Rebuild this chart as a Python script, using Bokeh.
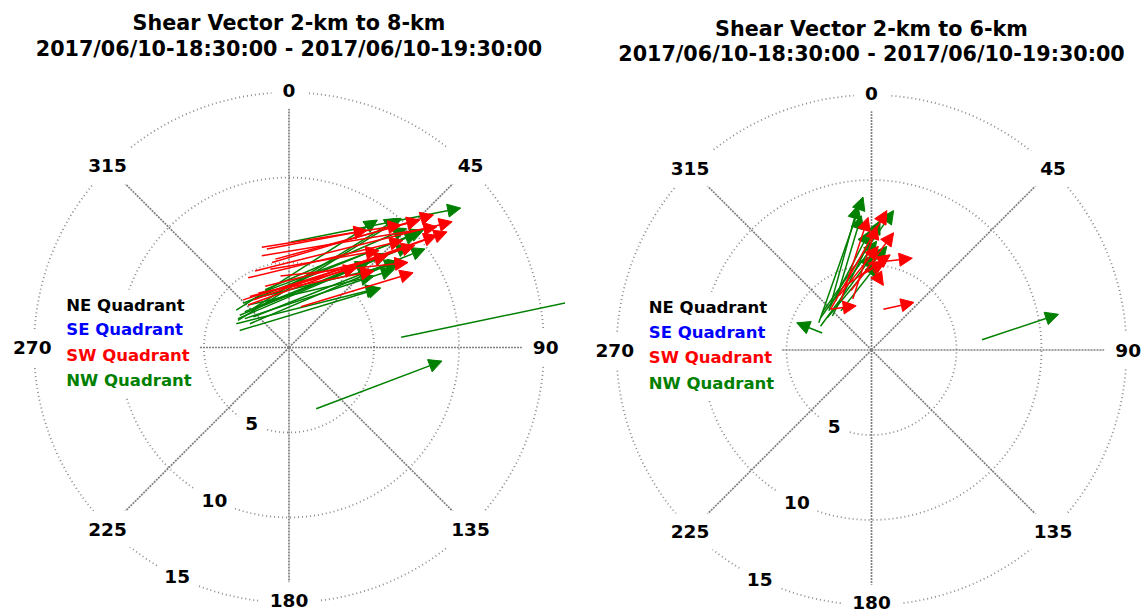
import numpy as np
from bokeh.plotting import figure
from bokeh.layouts import row
from bokeh.models import Arrow, NormalHead, ColumnDataSource
from bokeh.core.properties import value
from bokeh.embed import file_html
from bokeh.resources import INLINE

# ---------------- data ----------------
rings = [5, 10, 15]
ring_labels = ["5", "10", "15"]
spoke_angles = [0, 45, 90, 135, 180, 225, 270, 315]
angle_labels = ["0", "45", "90", "135", "180", "225", "270", "315"]
legend_labels = ["NE Quadrant", "SE Quadrant", "SW Quadrant", "NW Quadrant"]
legend_colors = ["black", "blue", "red", "green"]

title_left = ["Shear Vector 2-km to 8-km", "2017/06/10-18:30:00 - 2017/06/10-19:30:00"]
title_right = ["Shear Vector 2-km to 6-km", "2017/06/10-18:30:00 - 2017/06/10-19:30:00"]

# left panel (2-8 km) arrows: tail (u0, v0) -> head (u1, v1)
l_green_u0 = [0.1, -3.1, -3.0, -2.9, -2.7, -3.0, -2.6, -2.3, -2.4, -2.0, -1.7, -3.1, -2.1, -1.4, 6.6, 1.6, -2.6, -2.9, -2.1]
l_green_v0 = [6.2, 2.2, 1.6, 1.0, 2.6, 1.7, 2.1, 1.4, 2.5, 2.9, 3.2, 1.4, 2.3, 3.4, 0.6, -3.6, 1.7, 1.9, 1.8]
l_green_u1 = [10.1, 5.2, 6.6, 5.4, 7.9, 7.1, 5.8, 6.4, 5.0, 6.6, 7.6, 5.3, 6.4, 6.9, 19.5, 9.0, 6.2, 4.7, 8.0]
l_green_v1 = [8.2, 7.5, 7.6, 3.5, 6.9, 6.0, 5.5, 5.1, 4.2, 5.0, 6.7, 3.5, 7.6, 7.0, 3.3, -0.8, 4.6, 5.0, 5.8]

l_red_u0 = [-1.3, -1.6, -1.0, -2.4, -2.0, -2.4, -2.1, 0.7, -1.4, -1.8, -0.8, -1.1, -2.3, -0.5, -2.7, -1.6]
l_red_v0 = [5.8, 5.4, 5.0, 4.1, 4.5, 2.5, 2.8, 2.4, 3.6, 3.2, 5.2, 4.6, 3.0, 4.2, 2.8, 5.9]
l_red_u1 = [4.6, 8.7, 8.5, 6.7, 9.6, 9.3, 8.7, 7.3, 5.8, 5.0, 7.7, 5.3, 4.0, 7.0, 7.4, 6.6]
l_red_v1 = [6.9, 7.1, 7.8, 6.3, 7.4, 6.8, 6.6, 4.4, 5.4, 4.5, 7.5, 5.7, 4.7, 5.0, 6.0, 7.2]

# right panel (2-6 km) arrows
r_green_u0 = [-3.1, -2.9, -2.6, -2.4, -2.1, -2.9, 6.5, -1.8, -2.5, -3.0, -3.0, -2.3]
r_green_v0 = [1.6, 2.2, 1.9, 2.6, 2.9, 1.0, 0.6, 2.3, 2.3, 1.9, 1.4, 2.0]
r_green_u1 = [-0.5, 1.3, 0.9, -0.1, -0.6, -4.4, 11.0, 0.4, -0.8, 0.3, 0.1, 0.5]
r_green_v1 = [9.0, 8.2, 6.1, 7.0, 7.9, 1.6, 2.1, 5.1, 8.5, 6.4, 5.6, 7.6]

r_red_u0 = [-2.4, -1.8, -1.2, -1.5, -0.2, 0.1, -2.4, 0.7, -1.9, -1.1, -0.6]
r_red_v0 = [2.4, 2.9, 3.5, 3.8, 5.1, 4.7, 2.4, 2.4, 3.2, 3.0, 4.4]
r_red_u1 = [0.9, -0.2, 1.3, 1.1, 2.4, 0.7, -0.9, 2.5, 0.4, 0.3, 0.8]
r_red_v1 = [8.2, 7.8, 6.9, 5.6, 5.4, 3.8, 2.6, 2.8, 6.1, 7.3, 5.2]

# ---------------- drawing ----------------
PX = 17.0            # pixels per speed unit
FONT = value("DejaVu Sans")
RING = "#8a8a8a"
SPOKE = "#808080"


def text_w(s, size):
    return len(s) * 0.696 * size


def make_panel(width, height, cx, cy, titles, title_px, arrows):
    p = figure(width=width, height=height,
               x_range=(-cx / PX, (width - cx) / PX),
               y_range=(-(height - cy) / PX, cy / PX),
               x_axis_type=None, y_axis_type=None,
               toolbar_location=None, output_backend="svg",
               min_border=0, outline_line_color=None)
    p.background_fill_color = "white"
    p.border_fill_color = "white"

    # rings
    t = np.linspace(0, 2 * np.pi, 721)
    for r in rings:
        p.line(r * np.sin(t), r * np.cos(t), line_color=RING,
               line_dash="1 3", line_width=1.8)
    # spokes
    th = np.radians(spoke_angles)
    rmax = rings[-1]
    p.segment(np.zeros(len(th)), np.zeros(len(th)), rmax * np.sin(th), rmax * np.cos(th),
              line_color=SPOKE, line_dash="2 1", line_width=1.7)

    # angle labels with white boxes
    rl = rmax + 0.1
    ax = rl * np.sin(th)
    ay = rl * np.cos(th)
    ay[angle_labels.index("180")] += 4.0 / PX   # keep bottom label inside the page
    p.rect(ax, ay, width=[text_w(s, 18.5) + 22 for s in angle_labels],
           height=[36] * len(angle_labels),
           width_units="screen", height_units="screen",
           fill_color="white", line_color=None)
    p.text(ax, ay, text=angle_labels, text_font=FONT, text_font_style="bold",
           text_font_size="18.5px", text_align="center", text_baseline="middle",
           text_color="black")

    # ring labels
    rb = np.radians(206)
    rx = [r * np.sin(rb) for r in rings]
    ry = [r * np.cos(rb) for r in rings]
    p.rect(rx, ry, width=[text_w(s, 18.5) + 14 for s in ring_labels],
           height=[26] * len(rings), width_units="screen", height_units="screen",
           fill_color="white", line_color=None)
    p.text(rx, ry, text=ring_labels, text_font=FONT, text_font_style="bold",
           text_font_size="18.5px", text_align="center", text_baseline="middle",
           text_color="black")

    # legend box and entries
    lx = -13.1
    ly = [2.5, 1.03, -0.45, -1.95]
    p.quad(left=lx - 0.4, right=lx + 7.8, bottom=-2.9, top=3.4,
           fill_color="white", line_color=None)
    p.text([lx] * 4, ly, text=legend_labels, text_color=legend_colors,
           text_font=FONT, text_font_style="bold", text_font_size="16.5px",
           text_align="left", text_baseline="middle")

    # titles
    p.text([0, 0], [(cy - y) / PX for y in title_px], text=titles, text_font=FONT,
           text_font_style="bold", text_font_size="20.7px", text_align="center",
           text_baseline="middle", text_color="black")

    # arrows
    for (u0, v0, u1, v1, c) in arrows:
        src = ColumnDataSource(dict(x0=u0, y0=v0, x1=u1, y1=v1))
        p.add_layout(Arrow(end=NormalHead(size=13, fill_color=c, line_color=c, line_width=1),
                           x_start="x0", y_start="y0", x_end="x1", y_end="y1",
                           source=src, line_color=c, line_width=1.5))
    return p


H = 613
W1, W2 = 565, 576
left = make_panel(W1, H, 288.5, 347.0, title_left, [22, 48],
                  [(l_green_u0, l_green_v0, l_green_u1, l_green_v1, "green"),
                   (l_red_u0, l_red_v0, l_red_u1, l_red_v1, "red")])
right = make_panel(W2, H, 306.0, 349.5, title_right, [28, 53],
                   [(r_green_u0, r_green_v0, r_green_u1, r_green_v1, "green"),
                    (r_red_u0, r_red_v0, r_red_u1, r_red_v1, "red")])

layout = row(left, right)
open("out.html", "w").write(file_html(layout, INLINE))
